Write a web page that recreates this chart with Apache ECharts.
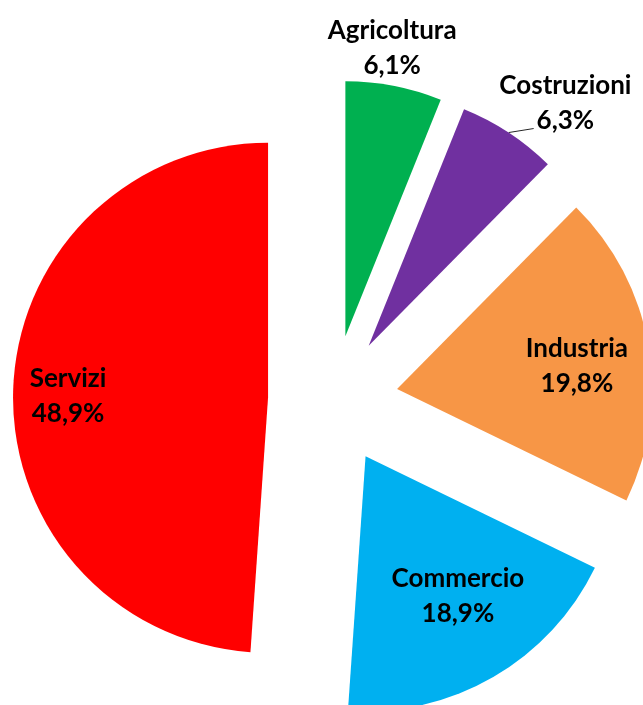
<!DOCTYPE html>
<html style="height: 100%">
<head>
    <meta charset="utf-8">
    <title>Settori</title>
</head>
<body style="height: 100%; margin: 0">
    <div id="container" style="width: 643px; height: 705px"></div>
    <script type="text/javascript" src="https://cdn.jsdelivr.net/npm/echarts@6/dist/echarts.min.js"></script>
    <script type="text/javascript">
        var sectors = ['Agricoltura', 'Costruzioni', 'Industria', 'Commercio', 'Servizi'];
        var shares  = [6.1, 6.3, 19.8, 18.9, 48.9];
        var colors  = ['#00B050', '#7030A0', '#F79646', '#00B0F0', '#FF0000'];

        var cx = 333, cy = 400, radius = 255, explode = 65;
        // where each label sits: [share of the radius along the mid angle, sideways shift]
        var labelSpots = [[1.145, -9], [1.22, 31], [0.71, 8], [0.655, -10], [0.784, -5]];

        var total = shares.reduce(function (a, b) { return a + b; }, 0);
        var midAngles = [];
        var acc = 0;
        shares.forEach(function (v) {
            midAngles.push((acc + v / 2) / total * 2 * Math.PI);
            acc += v;
        });

        // point at distance dist from the pie centre along slice i's mid angle
        function spot(i, dist, side) {
            var a = midAngles[i];
            return [cx + dist * Math.sin(a) + side * Math.cos(a),
                    cy - dist * Math.cos(a) + side * Math.sin(a)];
        }

        function formatLabel(p) {
            return p.name + '\n' + p.value.toFixed(1).replace('.', ',') + '%';
        }

        // one pie per slice, each pushed out along its own mid angle (exploded pie)
        var series = sectors.map(function (sector, k) {
            return {
                type: 'pie',
                center: spot(k, explode, 0),
                radius: radius,
                startAngle: 90,
                clockwise: true,
                avoidLabelOverlap: false,
                silent: true,
                label: {
                    position: k === 1 ? 'outside' : 'inside',
                    color: '#000',
                    fontFamily: 'Lato',
                    fontWeight: 'bold',
                    fontSize: 26,
                    lineHeight: 35,
                    align: 'center',
                    formatter: formatLabel
                },
                labelLine: { show: false },
                labelLayout: function (params) {
                    if (params.dataIndex !== k) return;
                    var s = labelSpots[k];
                    var p = spot(k, explode + s[0] * radius, s[1]);
                    var out = { x: p[0], y: p[1], align: 'center', verticalAlign: 'middle' };
                    if (k === 1) {
                        var a = spot(k, explode + radius, 0);
                        out.labelLinePoints = [a, [a[0] + 25, a[1] - 4]];
                    }
                    return out;
                },
                data: sectors.map(function (name, i) {
                    var item = { name: name, value: shares[i] };
                    if (i === k) {
                        item.itemStyle = { color: colors[i] };
                        if (k === 1) {
                            item.labelLine = {
                                show: true, length: 5, length2: 20,
                                lineStyle: { color: '#262626', width: 1 }
                            };
                        }
                    } else {
                        item.itemStyle = { color: 'rgba(0,0,0,0)' };
                        item.label = { show: false };
                    }
                    return item;
                })
            };
        });

        var dom     = document.getElementById('container');
        var myChart = echarts.init(dom);

        var option = {
            animation: false,
            textStyle: { fontFamily: 'Lato' },
            series: series
        };

        myChart.setOption(option);
    </script>
</body>
</html>
